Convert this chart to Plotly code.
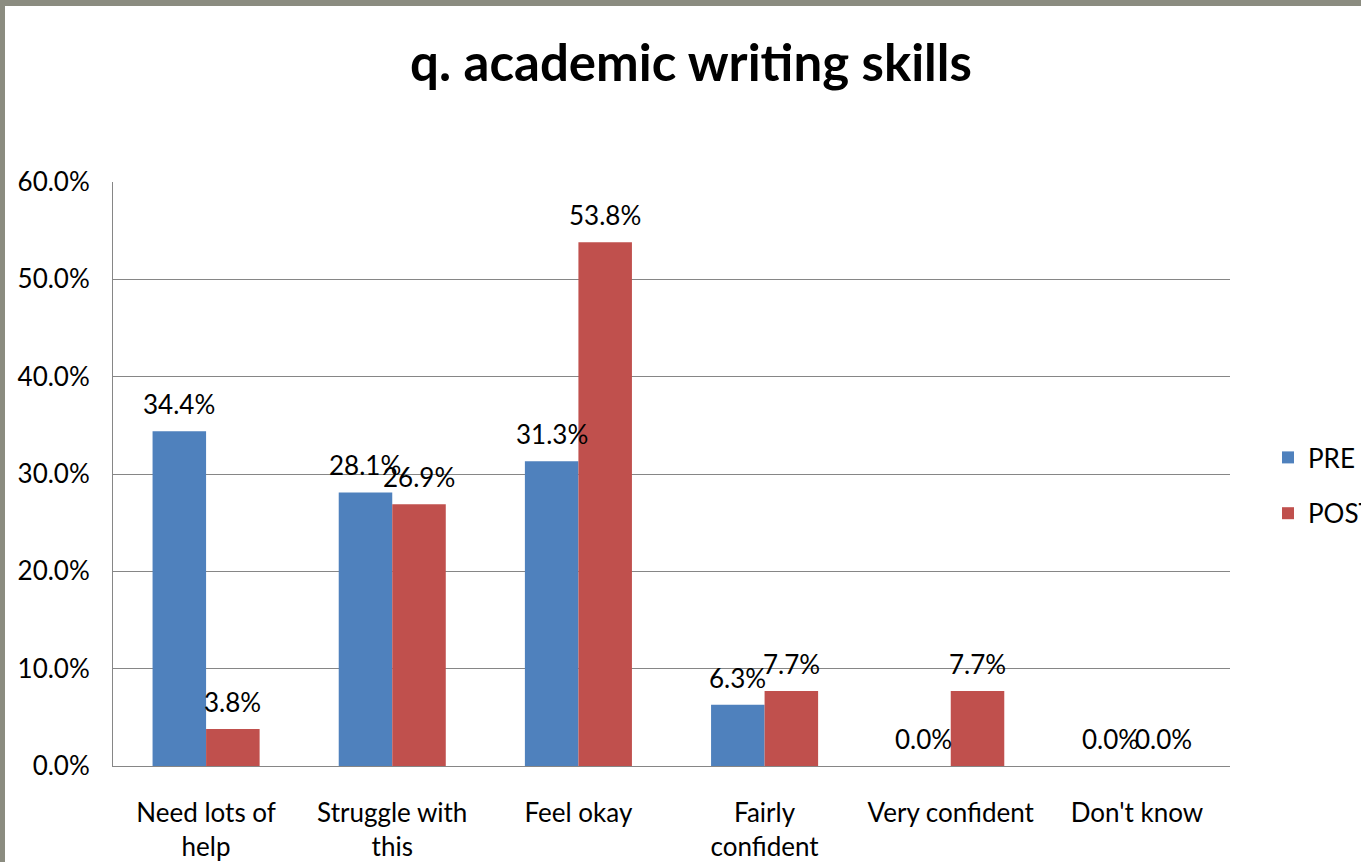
import plotly.graph_objects as go

categories = ["Need lots of<br>help", "Struggle with<br>this", "Feel okay",
              "Fairly<br>confident", "Very confident", "Don't know"]
pre_values = [34.4, 28.1, 31.3, 6.3, 0.0, 0.0]
post_values = [3.8, 26.9, 53.8, 7.7, 7.7, 0.0]
y_ticks = [0, 10, 20, 30, 40, 50, 60]
y_tick_labels = ["0.0%", "10.0%", "20.0%", "30.0%", "40.0%", "50.0%", "60.0%"]

W, H = 1361, 862
L, R, T, B = 113, 131, 182, 96
PW, PH = W - L - R, H - T - B

FONT = "Lato"
FS = 26
BLUE = "#4F81BD"
RED = "#C0504D"

BARGAP = 0.425
# half a bar width in pixels, used to centre value labels over each bar
HALF_BAR = PW / len(categories) * (1 - BARGAP) / 4


def px_x(p):
    return (p - L) / PW


def px_y(p):
    return (H - B - p) / PH


fig = go.Figure()
fig.add_trace(go.Bar(name="PRE", x=categories, y=pre_values,
                     marker=dict(color=BLUE, line=dict(width=0)),
                     legendgroup="pre"))
fig.add_trace(go.Bar(name="POST", x=categories, y=post_values,
                     marker=dict(color=RED, line=dict(width=0)),
                     legendgroup="post"))

# value labels above each bar
annotations = []
for values, shift in ((pre_values, -HALF_BAR), (post_values, HALF_BAR)):
    for cat, v in zip(categories, values):
        annotations.append(dict(
            x=cat, y=v, xref="x", yref="y", text=f"{v:.1f}%",
            showarrow=False, xanchor="center", yanchor="bottom",
            xshift=shift, yshift=9,
            font=dict(family=FONT, size=FS, color="#000000"),
        ))

# grey window frame along the top and left edges
shapes = [
    dict(type="rect", xref="paper", yref="paper",
         x0=px_x(0), x1=px_x(W + 50), y0=px_y(6), y1=px_y(-10),
         fillcolor="#8B8C80", line_width=0, layer="above"),
    dict(type="rect", xref="paper", yref="paper",
         x0=px_x(-10), x1=px_x(5), y0=px_y(H + 50), y1=px_y(0),
         fillcolor="#8B8C80", line_width=0, layer="above"),
]

fig.update_layout(
    width=W, height=H,
    margin=dict(l=L, r=R, t=T, b=B),
    paper_bgcolor="#FFFFFF", plot_bgcolor="#FFFFFF",
    barmode="group", bargap=BARGAP, bargroupgap=0,
    font=dict(family=FONT, size=FS, color="#000000"),
    title=dict(text="<b>q. academic writing skills</b>",
               x=px_x(691), xref="paper", xanchor="center",
               y=1 - 63 / H, yanchor="middle",
               font=dict(family=FONT, size=51, color="#000000")),
    xaxis=dict(showgrid=False, showline=True, linecolor="#868686", linewidth=1,
               ticks="", tickfont=dict(family=FONT, size=FS, color="#000000"),
               ticklabelstandoff=24, automargin=False),
    yaxis=dict(range=[0, 60], tickvals=y_ticks, ticktext=y_tick_labels,
               showgrid=True, gridcolor="#868686", gridwidth=1,
               showline=True, linecolor="#868686", linewidth=1,
               zeroline=False, ticks="", ticklabelstandoff=17, automargin=False,
               tickfont=dict(family=FONT, size=FS, color="#000000")),
    legend=dict(xref="container", yref="container",
                x=1268 / W, y=1 - 434 / H, xanchor="left", yanchor="top",
                traceorder="grouped", tracegroupgap=19,
                font=dict(family=FONT, size=FS, color="#000000"),
                itemwidth=30, bgcolor="rgba(0,0,0,0)"),
    annotations=annotations,
    shapes=shapes,
)

fig.write_html("out.html")
